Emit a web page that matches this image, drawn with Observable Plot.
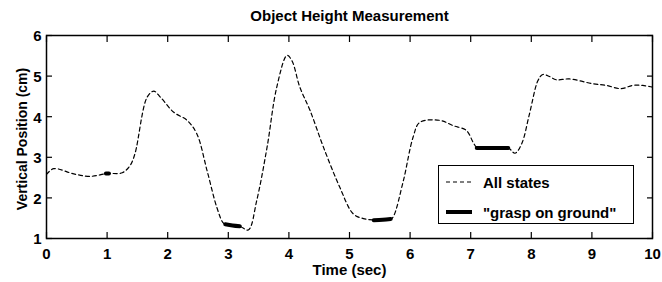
<!DOCTYPE html>
<html>
<head>
<meta charset="utf-8">
<script src="https://cdn.jsdelivr.net/npm/d3@7"></script>
<script src="https://cdn.jsdelivr.net/npm/@observablehq/plot@0.6"></script>
<style>
  body { margin: 0; background: #fff; }
  #wrap { position: relative; width: 662px; height: 282px; font-family: "Liberation Sans", Arial, sans-serif; }
  #legend { position: absolute; left: 438px; top: 165px; width: 196px; height: 59px; border: 1.5px solid #000; background: #fff; box-sizing: border-box; }
  .row { position: absolute; left: 6px; height: 20px; display: flex; align-items: center; font-size: 15px; font-weight: bold; color: #000; white-space: nowrap; }
  .row svg { margin-right: 10px; }
</style>
</head>
<body>
<div id="wrap"></div>
<script>
// ---- data ----
const time   = [0.00, 0.12, 0.45, 0.72, 1.00, 1.25, 1.38, 1.46, 1.66, 1.77, 1.88, 2.10, 2.32, 2.48, 2.65, 2.81, 2.92, 3.00, 3.19, 3.33, 3.47, 3.64, 3.80, 3.97, 4.05, 4.18, 4.35, 4.57, 4.84, 5.06, 5.23, 5.40, 5.67, 5.72, 5.89, 6.05, 6.16, 6.49, 6.71, 6.93, 7.04, 7.10, 7.40, 7.62, 7.73, 7.84, 7.97, 8.11, 8.19, 8.30, 8.41, 8.63, 9.02, 9.24, 9.48, 9.67, 9.84, 10.00];
const height = [2.58, 2.72, 2.59, 2.53, 2.60, 2.62, 2.80, 3.09, 4.48, 4.63, 4.48, 4.11, 3.91, 3.58, 2.67, 1.77, 1.38, 1.33, 1.30, 1.21, 1.94, 3.25, 4.73, 5.51, 5.38, 4.73, 4.15, 3.25, 2.26, 1.61, 1.49, 1.46, 1.47, 1.53, 2.43, 3.50, 3.86, 3.91, 3.78, 3.66, 3.37, 3.25, 3.23, 3.23, 3.10, 3.33, 4.07, 4.89, 5.04, 4.99, 4.91, 4.93, 4.81, 4.77, 4.69, 4.77, 4.77, 4.73];

const graspSegment = [1, 1, 2, 2, 2, 3, 3, 3, 4, 4];
const graspTime    = [0.98, 1.03, 2.95, 3.07, 3.19, 5.40, 5.55, 5.68, 7.10, 7.62];
const graspHeight  = [2.60, 2.60, 1.35, 1.32, 1.30, 1.45, 1.46, 1.48, 3.23, 3.23];

const xTicks = [0, 1, 2, 3, 4, 5, 6, 7, 8, 9, 10];
const yTicks = [1, 2, 3, 4, 5, 6];

const titleText = "Object Height Measurement";
const xLabel = "Time (sec)";
const yLabel = "Vertical Position (cm)";
const legendLabels = ["All states", "\"grasp on ground\""];

// ---- tables ----
const curve = time.map((t, i) => ({t, h: height[i]}));
const grasp = graspTime.map((t, i) => ({t, h: graspHeight[i], s: graspSegment[i]}));

const chart = Plot.plot({
  width: 662,
  height: 282,
  marginLeft: 46,
  marginRight: 10,
  marginTop: 35,
  marginBottom: 44,
  x: {domain: [0, 10]},
  y: {domain: [1, 6]},
  style: {fontFamily: "'Liberation Sans', Arial, sans-serif", fontSize: "15px", fontWeight: "bold", color: "#000", background: "#fff"},
  marks: [
    Plot.axisX(xTicks, {anchor: "bottom", tickSize: 0, tickPadding: 10, label: null, tickFormat: d => String(d)}),
    Plot.axisX(xTicks, {anchor: "bottom", tickSize: 6, dy: -6, text: null, label: null, strokeWidth: 1.2}),
    Plot.axisX(xTicks, {anchor: "top", tickSize: 6, dy: 6, text: null, label: null, strokeWidth: 1.2}),
    Plot.axisY(yTicks, {anchor: "left", tickSize: 0, tickPadding: 5, label: null, dy: 1, tickFormat: d => String(d)}),
    Plot.axisY(yTicks, {anchor: "left", tickSize: 6, dx: 6, text: null, label: null, strokeWidth: 1.2}),
    Plot.axisY(yTicks, {anchor: "right", tickSize: 6, dx: -6, text: null, label: null, strokeWidth: 1.2}),
    Plot.line(curve, {x: "t", y: "h", curve: "catmull-rom", stroke: "#000", strokeWidth: 1.2, strokeDasharray: "4,3"}),
    Plot.line(grasp, {x: "t", y: "h", z: "s", curve: "catmull-rom", stroke: "#000", strokeWidth: 4, strokeLinecap: "round"}),
    Plot.frame({stroke: "#000", strokeWidth: 1.5}),
    Plot.text([titleText], {frameAnchor: "top", textAnchor: "middle", lineAnchor: "middle", dy: -19, fontSize: 15, fontWeight: "bold"}),
    Plot.text([xLabel], {frameAnchor: "bottom", textAnchor: "middle", lineAnchor: "middle", dy: 32, fontSize: 15}),
    Plot.text([yLabel], {frameAnchor: "left", textAnchor: "middle", lineAnchor: "middle", dx: -24, dy: 2, rotate: -90, fontSize: 14})
  ]
});

const wrap = document.getElementById("wrap");
wrap.appendChild(chart);

// legend
const legend = document.createElement("div");
legend.id = "legend";
const styles = [
  {dash: "4,3", width: 1.2},
  {dash: null, width: 4}
];
legendLabels.forEach((label, i) => {
  const row = document.createElement("div");
  row.className = "row";
  row.style.top = (i === 0 ? 6 : 36) + "px";
  const svg = d3.create("svg").attr("width", 28).attr("height", 10);
  svg.append("line").attr("x1", 1).attr("x2", 27).attr("y1", 5).attr("y2", 5)
    .attr("stroke", "#000").attr("stroke-width", styles[i].width)
    .attr("stroke-dasharray", styles[i].dash);
  row.appendChild(svg.node());
  const span = document.createElement("span");
  span.textContent = label;
  row.appendChild(span);
  legend.appendChild(row);
});
wrap.appendChild(legend);
</script>
</body>
</html>
